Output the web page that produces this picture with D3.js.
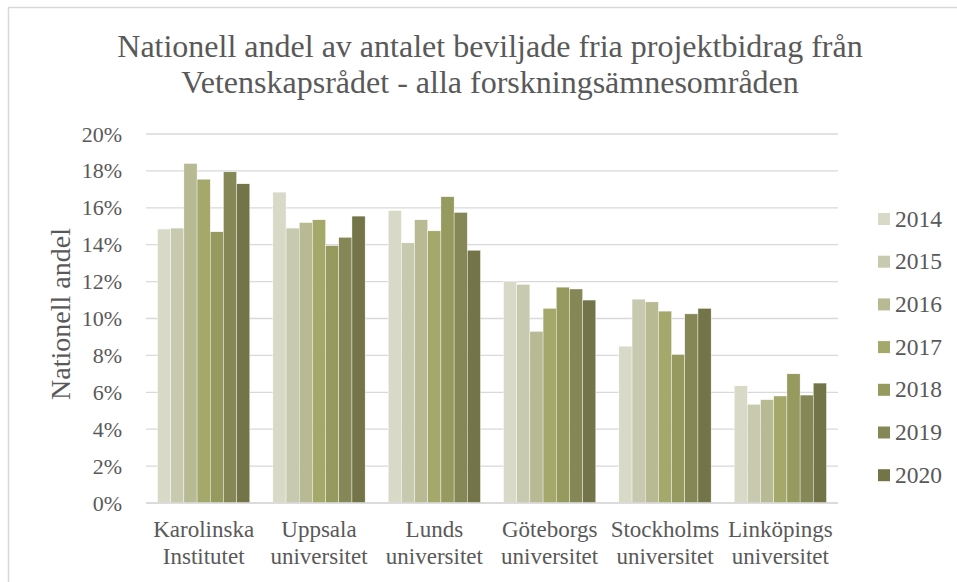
<!DOCTYPE html>
<html>
<head>
<meta charset="utf-8">
<script src="https://cdn.jsdelivr.net/npm/d3@7"></script>
<style>
  html, body { margin: 0; padding: 0; background: #fff; }
  svg { display: block; }
  text { font-family: "Liberation Serif", "Times New Roman", serif; fill: #595959; }
</style>
</head>
<body>
<svg id="chart" width="957" height="582"></svg>
<script>
const titleLines = ["Nationell andel av antalet beviljade fria projektbidrag från", "Vetenskapsrådet - alla forskningsämnesområden"];
const categories = [["Karolinska", "Institutet"], ["Uppsala", "universitet"], ["Lunds", "universitet"], ["Göteborgs", "universitet"], ["Stockholms", "universitet"], ["Linköpings", "universitet"]];
const years = ["2014", "2015", "2016", "2017", "2018", "2019", "2020"];
const colors = ["#d8dac7", "#c8cab0", "#b7ba93", "#a4a86b", "#969a5f", "#858856", "#737549"];
// values in percent, one array per university, ordered 2014..2020
const values = [
  [14.85, 14.9, 18.4, 17.55, 14.7, 17.95, 17.3],
  [16.85, 14.9, 15.2, 15.35, 13.95, 14.4, 15.55],
  [15.85, 14.1, 15.35, 14.75, 16.6, 15.75, 13.7],
  [12.0, 11.85, 9.3, 10.55, 11.7, 11.6, 11.0],
  [8.5, 11.05, 10.9, 10.4, 8.05, 10.25, 10.55],
  [6.35, 5.35, 5.6, 5.8, 7.0, 5.85, 6.5]
];
const yTicks = [0, 2, 4, 6, 8, 10, 12, 14, 16, 18, 20];
const yTitle = "Nationell andel";

const svg = d3.select("#chart");
const serif = '"Liberation Serif", "Times New Roman", serif';
// outer chart border
svg.append("rect").attr("x", 8.5).attr("y", 7.5).attr("width", 960).attr("height", 590)
  .attr("fill", "none").attr("stroke", "#d9d9d9").attr("stroke-width", 1.5);

const plot = { left: 146, right: 838, top: 134, bottom: 503 };
const x0 = d3.scaleBand().domain(d3.range(categories.length)).range([plot.left, plot.right]).paddingInner(0.2).paddingOuter(0.1);
const x1 = d3.scaleBand().domain(years).range([0, x0.bandwidth()]);
const y = d3.scaleLinear().domain([0, 20]).range([plot.bottom, plot.top]);

// gridlines
svg.append("g").selectAll("line").data(yTicks).join("line")
  .attr("x1", plot.left).attr("x2", plot.right)
  .attr("y1", d => y(d)).attr("y2", d => y(d))
  .attr("stroke", "#d9d9d9").attr("stroke-width", 1.3);

// y tick labels via axis
const yAxis = svg.append("g").attr("transform", `translate(${plot.left},0)`)
  .call(d3.axisLeft(y).tickValues(yTicks).tickFormat(d => d + "%").tickSize(0).tickPadding(24))
  .attr("font-family", serif).attr("font-size", 22);
yAxis.select(".domain").remove();
yAxis.selectAll("text").attr("fill", "#595959").style("font-family", serif).style("font-size", "22px");

// bars
const groups = svg.append("g").selectAll("g").data(values).join("g")
  .attr("transform", (d, i) => `translate(${x0(i)},0)`);
groups.selectAll("rect").data(d => d.map((v, j) => ({ v, j }))).join("rect")
  .attr("x", d => x1(years[d.j]))
  .attr("y", d => y(d.v))
  .attr("width", x1.bandwidth())
  .attr("height", d => y(0) - y(d.v))
  .attr("fill", d => colors[d.j])
  .attr("stroke", "#ffffff").attr("stroke-width", 0.4);

// baseline
svg.append("line").attr("x1", plot.left).attr("x2", plot.right)
  .attr("y1", y(0)).attr("y2", y(0)).attr("stroke", "#d9d9d9").attr("stroke-width", 1.3);

// x labels
const xl = svg.append("g").selectAll("text").data(categories).join("text")
  .attr("text-anchor", "middle")
  .attr("font-size", 23);
xl.each(function(d, i) {
  const t = d3.select(this);
  d.forEach((line, k) => {
    t.append("tspan").attr("x", x0(i) + x0.bandwidth() / 2).attr("y", 537 + k * 27).text(line);
  });
});

// title
svg.append("g").selectAll("text").data(titleLines).join("text")
  .attr("x", 490).attr("y", (d, i) => 57 + i * 36)
  .attr("text-anchor", "middle").attr("font-size", 32).text(d => d);

// y title
svg.append("text").attr("transform", "translate(70,314) rotate(-90)")
  .attr("text-anchor", "middle").attr("font-size", 28).text(yTitle);

// legend
const leg = svg.append("g").selectAll("g").data(years).join("g")
  .attr("transform", (d, i) => `translate(878,${219 + i * 42.7})`);
leg.append("rect").attr("x", 0).attr("y", -6).attr("width", 12).attr("height", 12)
  .attr("fill", (d, i) => colors[i]);
leg.append("text").attr("x", 17).attr("y", 7.5).attr("font-size", 23.5).text(d => d);
</script>
</body>
</html>
